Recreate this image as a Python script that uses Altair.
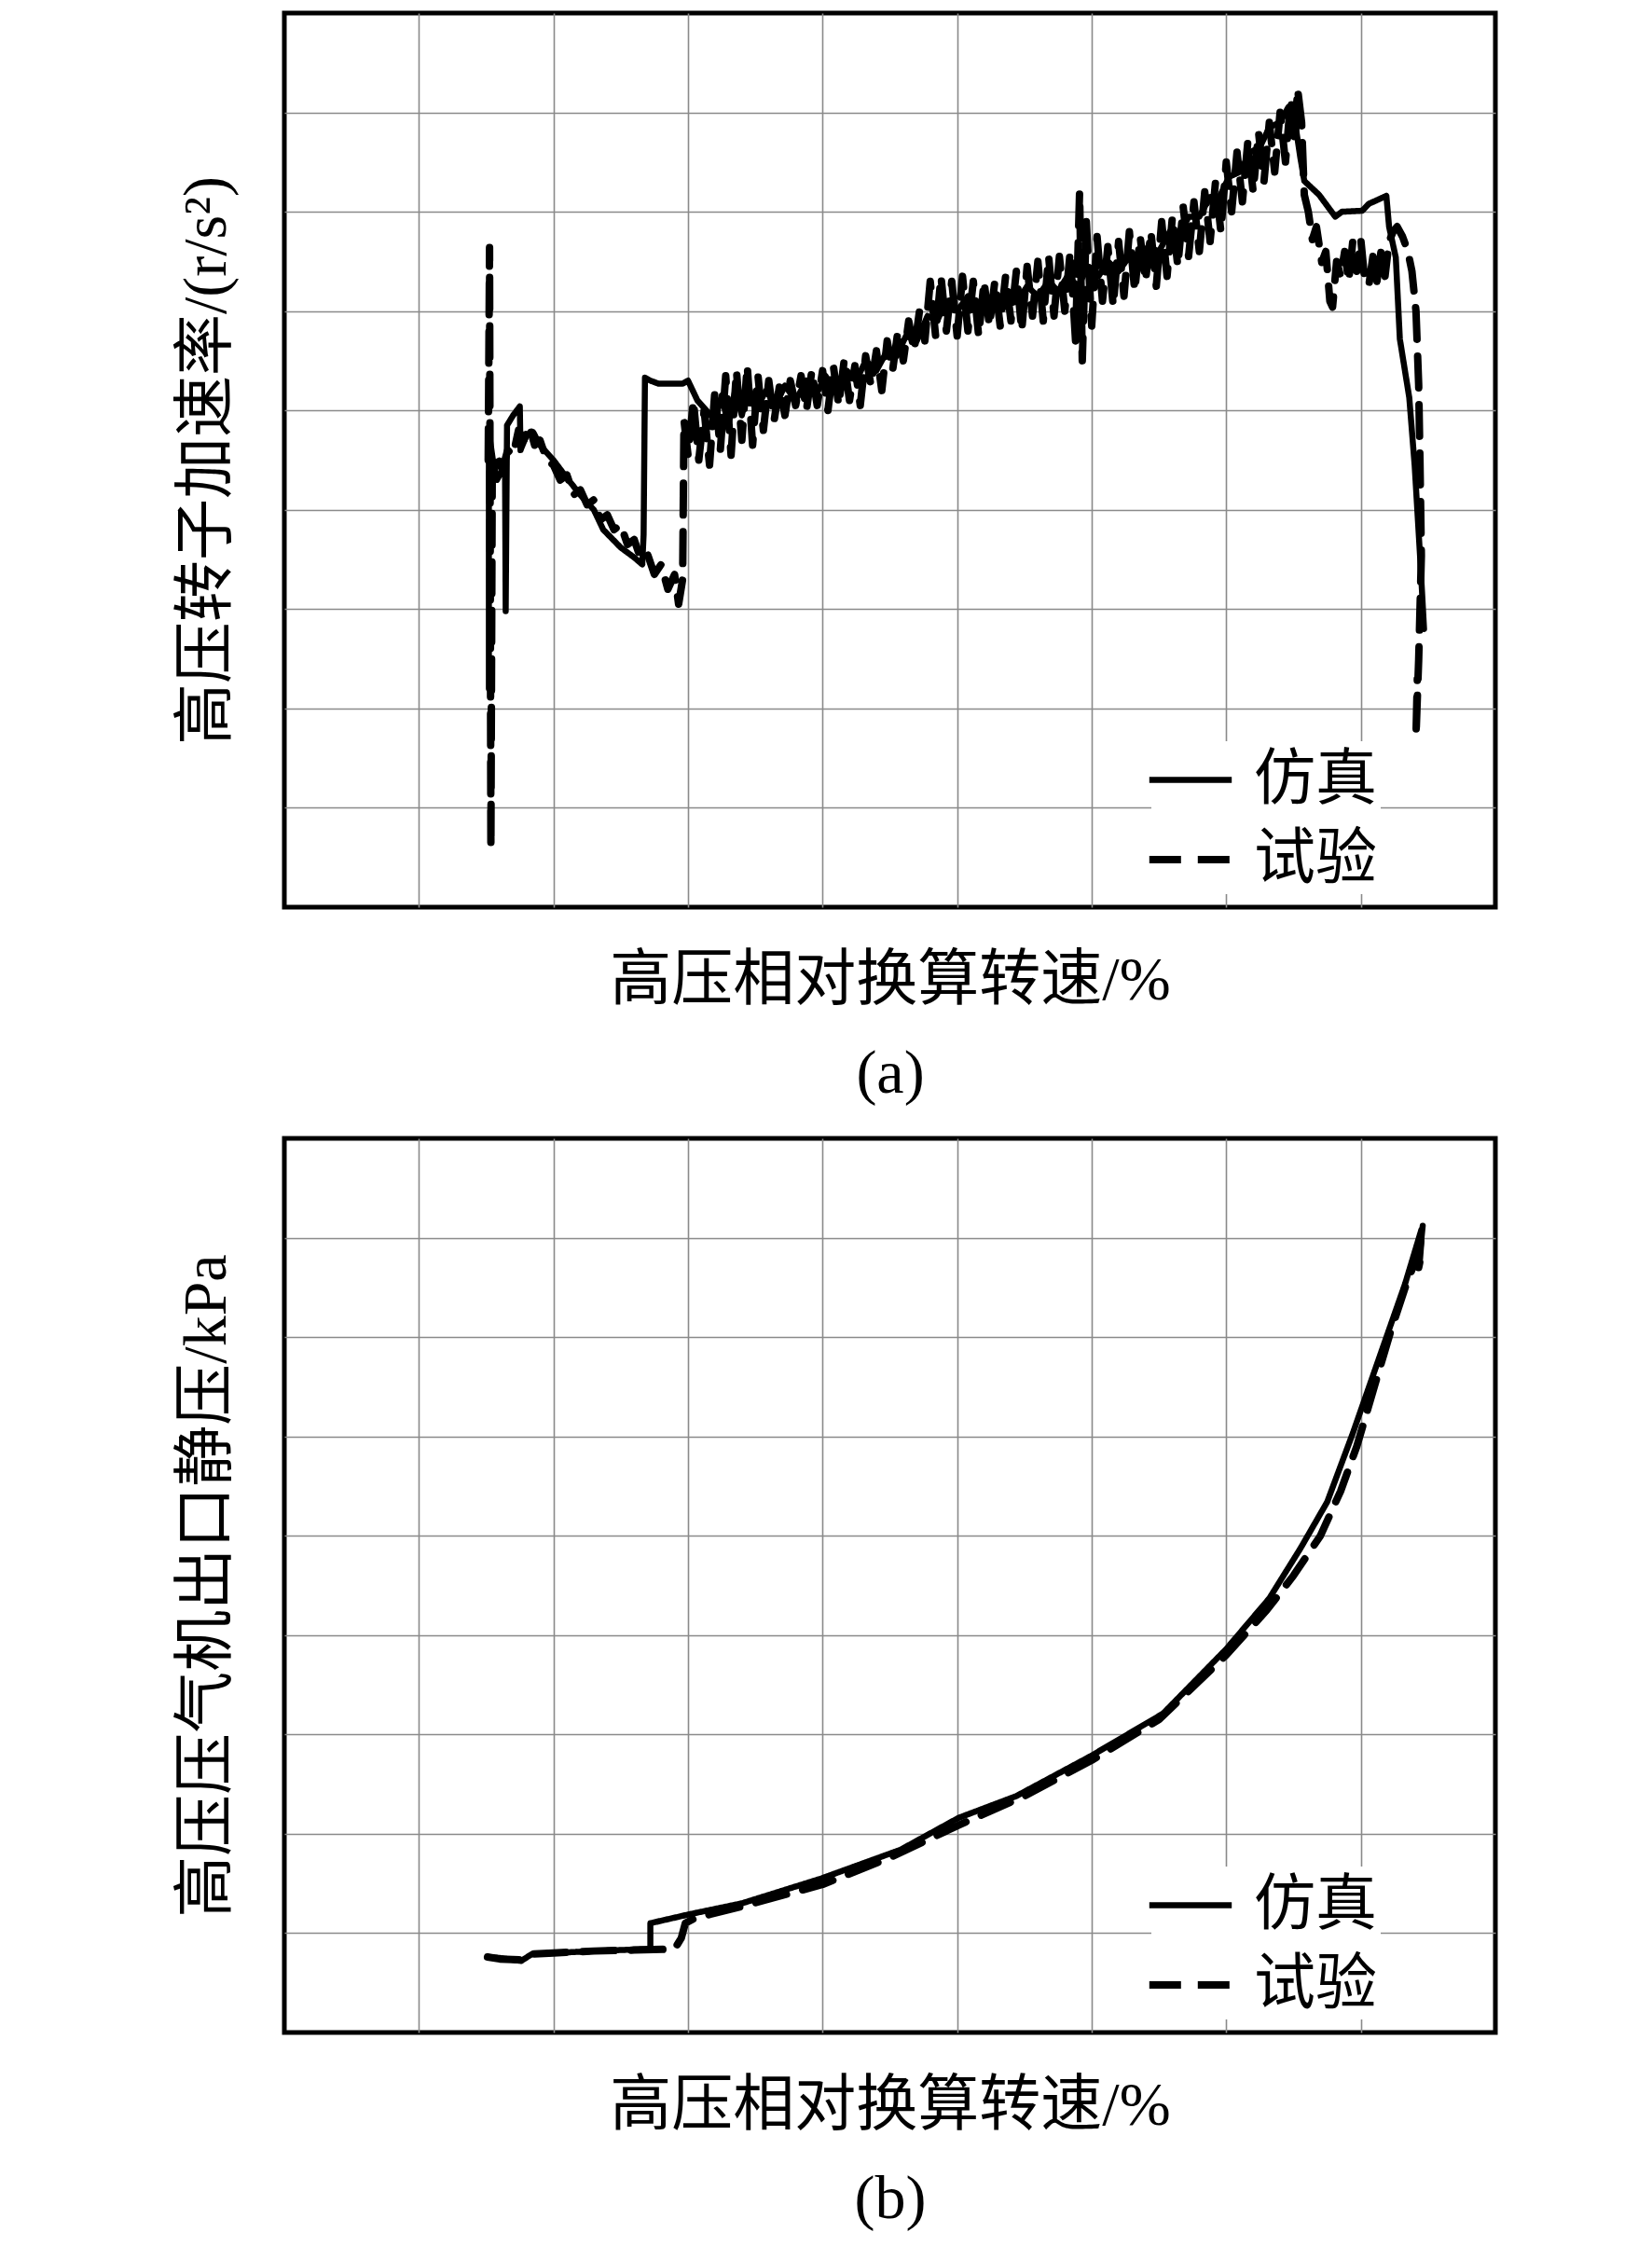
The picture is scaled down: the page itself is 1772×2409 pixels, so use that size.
import altair as alt
import pandas as pd

SERIES = ["仿真", "试验"]
GRID_VALUES = [1, 2, 3, 4, 5, 6, 7, 8]
X_TITLE = "高压相对换算转速/%"
Y_TITLE_A = "高压转子加速率/(r/s²)"
Y_TITLE_B = "高压压气机出口静压/kPa"

# ---------- (a) rotor acceleration: simulation (solid) ----------
a_sim_x = [1.52, 1.52, 1.55, 1.58, 1.62, 1.64, 1.645, 1.655, 1.70, 1.75, 1.755, 1.80, 1.85, 1.90,
           2.00, 2.10, 2.20, 2.30, 2.37, 2.50, 2.60, 2.66, 2.67, 2.68, 2.72, 2.78, 2.96, 3.00, 3.07, 3.15,
           3.20, 3.25, 3.30, 3.35, 3.40, 3.45, 3.50, 3.58, 3.65, 3.72, 3.80, 3.88, 3.95, 4.02, 4.10, 4.18,
           4.25, 4.32, 4.40, 4.48, 4.55, 4.62, 4.70, 4.78, 4.85, 4.92, 5.00, 5.08, 5.15, 5.22, 5.30, 5.38,
           5.45, 5.52, 5.60, 5.68, 5.75, 5.82, 5.90, 5.97, 6.05, 6.12, 6.20, 6.28, 6.35, 6.42, 6.50, 6.58,
           6.65, 6.72, 6.80, 6.88, 6.95, 7.02, 7.10, 7.18, 7.25, 7.32, 7.40, 7.46, 7.50, 7.55, 7.58, 7.69,
           7.81, 7.86, 8.01, 8.06, 8.19, 8.21, 8.26, 8.29, 8.36, 8.40, 8.44, 8.47]
a_sim_y = [2.20, 4.78, 4.50, 4.30, 4.40, 4.45, 2.98, 4.85, 4.95, 5.04, 4.60, 4.75, 4.78, 4.65,
           4.50, 4.32, 4.15, 4.00, 3.80, 3.62, 3.52, 3.45, 3.75, 5.33, 5.30, 5.27, 5.27, 5.30, 5.10, 4.98,
           4.90, 5.15, 4.85, 5.20, 4.95, 5.25, 5.00, 5.20, 5.05, 5.25, 5.10, 5.30, 5.15, 5.35, 5.20, 5.40,
           5.30, 5.50, 5.40, 5.60, 5.55, 5.75, 5.70, 5.95, 5.90, 6.10, 6.00, 6.15, 6.00, 6.15, 6.05, 6.20,
           6.10, 6.25, 6.15, 6.30, 6.20, 6.35, 6.25, 6.45, 6.35, 6.50, 6.40, 6.55, 6.50, 6.65, 6.60, 6.80,
           6.75, 6.95, 6.95, 7.15, 7.15, 7.35, 7.40, 7.60, 7.65, 7.85, 7.90, 8.05, 8.00, 7.55, 7.31, 7.17,
           6.95, 7.00, 7.01, 7.08, 7.16, 6.85, 6.54, 5.72, 5.13, 4.45, 3.54, 2.80]

# ---------- (a) rotor acceleration: test (dashed) ----------
a_exp_x = [1.515, 1.525, 1.535, 1.545, 1.58, 1.62, 1.66, 1.70, 1.74, 1.78, 1.82, 1.86, 1.90, 1.95,
           2.00, 2.05, 2.10, 2.15, 2.20, 2.25, 2.30, 2.35, 2.40, 2.45, 2.50, 2.55, 2.60, 2.65, 2.70, 2.75,
           2.80, 2.85, 2.90, 2.93, 2.96, 2.97,
           3.00, 3.04, 3.08, 3.12, 3.16, 3.20, 3.24, 3.28, 3.32, 3.36, 3.40, 3.44, 3.48, 3.52, 3.56, 3.60,
           3.64, 3.68, 3.72, 3.76, 3.80, 3.84, 3.88, 3.92, 3.96, 4.00, 4.04, 4.08, 4.12, 4.16, 4.20, 4.24,
           4.28, 4.32, 4.36, 4.40, 4.44, 4.48, 4.52, 4.56, 4.60, 4.64, 4.68, 4.72, 4.76, 4.80, 4.84, 4.88,
           4.92, 4.96, 5.00, 5.04, 5.08, 5.12, 5.16, 5.20, 5.24, 5.28, 5.32, 5.36, 5.40, 5.44, 5.48, 5.52,
           5.56, 5.60, 5.64, 5.68, 5.72, 5.76, 5.80, 5.84, 5.88, 5.91, 5.93, 5.96, 6.00, 6.04, 6.08, 6.12,
           6.16, 6.20, 6.24, 6.28, 6.32, 6.36, 6.40, 6.44, 6.48, 6.52, 6.56, 6.60, 6.64, 6.68, 6.72, 6.76,
           6.80, 6.84, 6.88, 6.92, 6.96, 7.00, 7.04, 7.08, 7.12, 7.16, 7.20, 7.24, 7.28, 7.32, 7.36, 7.40,
           7.44, 7.48, 7.51, 7.53, 7.56, 7.58, 7.61, 7.64, 7.67, 7.71, 7.74, 7.77, 7.79, 7.82, 7.85, 7.88,
           7.91, 7.94, 7.97, 8.00, 8.03, 8.06, 8.09, 8.12, 8.15, 8.18, 8.21, 8.24, 8.27, 8.31, 8.35, 8.38,
           8.41, 8.43, 8.44, 8.45, 8.43, 8.41, 8.42]
a_exp_y = [4.50, 6.64, 0.60, 4.35, 4.55, 4.40, 4.60, 4.55, 4.80, 4.70, 4.85, 4.65, 4.70, 4.50,
           4.45, 4.30, 4.35, 4.15, 4.20, 4.05, 4.10, 3.90, 3.95, 3.80, 3.85, 3.65, 3.70, 3.50, 3.55, 3.35,
           3.45, 3.20, 3.35, 3.05, 3.30, 4.90,
           4.55, 5.10, 4.50, 5.00, 4.45, 5.20, 4.60, 5.35, 4.55, 5.40, 4.70, 5.45, 4.65, 5.35, 4.80, 5.30,
           4.90, 5.25, 4.95, 5.30, 5.05, 5.35, 5.00, 5.40, 5.05, 5.40, 5.00, 5.45, 5.05, 5.50, 5.10, 5.45,
           5.05, 5.55, 5.25, 5.60, 5.20, 5.70, 5.40, 5.80, 5.50, 5.90, 5.60, 6.00, 5.70, 6.30, 5.75, 6.35,
           5.80, 6.30, 5.75, 6.35, 5.80, 6.30, 5.75, 6.30, 5.85, 6.30, 5.85, 6.35, 5.90, 6.40, 5.80, 6.45,
           5.95, 6.50, 5.90, 6.55, 5.95, 6.55, 6.00, 6.60, 5.70, 7.20, 5.50, 6.90, 5.85, 6.75, 6.10, 6.65,
           6.05, 6.70, 6.15, 6.80, 6.20, 6.75, 6.30, 6.80, 6.25, 6.90, 6.35, 6.95, 6.45, 7.05, 6.55, 7.10,
           6.60, 7.20, 6.70, 7.30, 6.80, 7.50, 7.00, 7.60, 7.10, 7.70, 7.20, 7.80, 7.30, 7.90, 7.40, 8.00,
           7.50, 8.15, 7.70, 8.24, 7.90, 7.17, 7.00, 6.72, 6.85, 6.49, 6.60, 6.10, 6.04, 6.50, 6.35, 6.60,
           6.30, 6.70, 6.40, 6.72, 6.30, 6.26, 6.55, 6.30, 6.60, 6.35, 6.70, 6.80, 6.85, 6.75, 6.60, 6.40,
           6.00, 5.26, 4.45, 3.54, 2.49, 1.72, 2.30]

# ---------- (b) compressor outlet static pressure ----------
b_sim_x = [1.51, 1.60, 1.76, 1.84, 2.00, 2.31, 2.50, 2.72, 2.72, 3.01, 3.40, 3.99, 4.58, 5.01, 5.44,
           5.99, 6.53, 7.00, 7.32, 7.55, 7.75, 7.94, 8.18, 8.33, 8.45, 8.44, 8.46]
b_sim_y = [0.76, 0.75, 0.72, 0.79, 0.80, 0.82, 0.83, 0.84, 1.10, 1.19, 1.30, 1.55, 1.84, 2.16, 2.38,
           2.78, 3.21, 3.86, 4.37, 4.87, 5.34, 6.03, 6.96, 7.54, 8.08, 7.85, 8.12]
b_exp_x = [1.51, 1.60, 1.76, 1.84, 2.00, 2.30, 2.60, 2.90, 2.95, 2.98, 3.05, 3.40, 4.00, 4.50, 5.00,
           5.50, 6.00, 6.50, 7.00, 7.30, 7.50, 7.70, 7.85, 7.97, 8.10, 8.22, 8.33, 8.40, 8.45, 8.43, 8.46]
b_exp_y = [0.76, 0.74, 0.73, 0.79, 0.80, 0.82, 0.83, 0.84, 0.95, 1.10, 1.15, 1.27, 1.49, 1.76, 2.08,
           2.38, 2.74, 3.15, 3.80, 4.25, 4.60, 5.00, 5.45, 5.90, 6.50, 7.05, 7.50, 7.75, 8.05, 7.70, 7.90]

FONT = "Liberation Serif, Noto Sans CJK SC"


def table(xs, ys, name):
    return pd.DataFrame({"x": xs, "y": ys, "series": name, "idx": list(range(len(xs)))})


def panel(df, y_title, caption):
    dash_scale = alt.Scale(domain=SERIES, range=[[1, 0], [34, 18]])
    width_scale = alt.Scale(domain=SERIES, range=[6.5, 8])
    return (
        alt.Chart(df)
        .mark_line(color="black", strokeJoin="round", strokeCap="round", clip=True)
        .encode(
            x=alt.X(
                "x:Q",
                scale=alt.Scale(domain=[0, 9], nice=False, zero=False),
                axis=alt.Axis(values=GRID_VALUES, labels=False, ticks=False, domain=False, grid=True,
                              title=[X_TITLE, caption], titlePadding=46, titleLineHeight=100),
            ),
            y=alt.Y(
                "y:Q",
                scale=alt.Scale(domain=[0, 9], nice=False, zero=False),
                axis=alt.Axis(values=GRID_VALUES, labels=False, ticks=False, domain=False, grid=True,
                              title=y_title, titlePadding=50),
            ),
            strokeDash=alt.StrokeDash(
                "series:N",
                scale=dash_scale,
                legend=alt.Legend(
                    title=None, orient="none", legendX=930, legendY=781, fillColor="white",
                    padding=4, symbolType="M-1.3,0L1.3,0", symbolSize=4624, symbolStrokeWidth=6,
                    symbolStrokeColor="black", labelFont=FONT, labelFontSize=66,
                    labelColor="black", labelOffset=30, rowPadding=14,
                ),
            ),
            strokeWidth=alt.StrokeWidth("series:N", scale=width_scale, legend=None),
            order="idx:Q",
        )
        .properties(width=1299, height=959)
    )


data_a = pd.concat([table(a_sim_x, a_sim_y, SERIES[0]), table(a_exp_x, a_exp_y, SERIES[1])])
data_b = pd.concat([table(b_sim_x, b_sim_y, SERIES[0]), table(b_exp_x, b_exp_y, SERIES[1])])

chart = (
    alt.vconcat(panel(data_a, Y_TITLE_A, "(a)"), panel(data_b, Y_TITLE_B, "(b)"), spacing=31)
    .resolve_scale(strokeDash="independent", strokeWidth="independent")
    .resolve_legend(strokeDash="independent", strokeWidth="independent")
    .properties(padding={"left": 177, "top": 3, "right": 5, "bottom": 5}, background="white")
    .configure_view(stroke="black", strokeWidth=5)
    .configure_axis(gridColor="#8a8a8a", gridWidth=1.6, titleFont=FONT, titleFontSize=66,
                    titleFontWeight="normal", titleColor="black")
)

chart.save("out.html", embed_options={"renderer": "svg", "actions": False})
